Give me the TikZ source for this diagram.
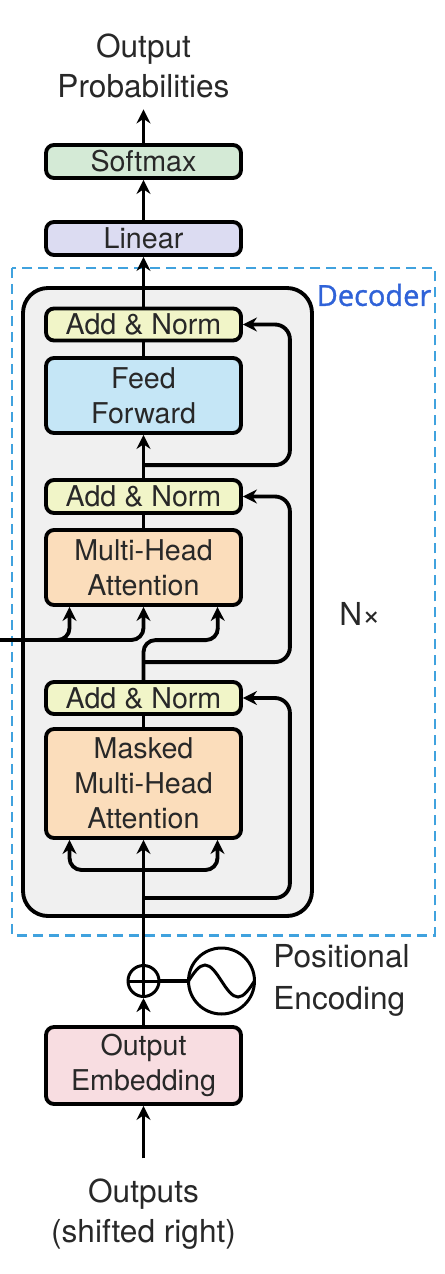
\documentclass[tikz,border=0pt]{standalone}
\usepackage{fontspec}
\setmainfont{TeX Gyre Heros}
\newfontfamily\decfont[FakeBold=1.2]{Open Sans}
\usetikzlibrary{arrows.meta}

\definecolor{textgray}{RGB}{40,40,40}
\definecolor{softmaxgreen}{RGB}{212,234,214}
\definecolor{linearblue}{RGB}{220,220,242}
\definecolor{normyellow}{RGB}{241,245,200}
\definecolor{ffblue}{RGB}{197,230,246}
\definecolor{attnorange}{RGB}{251,221,187}
\definecolor{embpink}{RGB}{248,221,225}
\definecolor{panelgray}{RGB}{240,240,240}
\definecolor{dashblue}{RGB}{64,162,222}
\definecolor{decblue}{RGB}{47,98,216}

\begin{document}
\begin{tikzpicture}[x=0.02cm, y=-0.02cm,
  txt/.style={text=textgray, font=\fontsize{18}{22.8}\selectfont, align=center, inner sep=0pt},
  layer/.style={draw, line width=2.2pt, rounded corners=0.16cm, minimum width=3.9cm,
    text=textgray, font=\fontsize{16.3}{20}\selectfont, align=center, inner sep=0pt},
  arr/.style={line width=2.2pt, -{Stealth[length=0.28cm, width=0.28cm]}},
  wire/.style={line width=2.2pt},
  ring/.style={draw, circle, line width=1.7pt, inner sep=0pt}]
\useasboundingbox (0,0) rectangle (444,1274);

% decoder frame and the stacked block
\draw[dashblue, line width=1.7pt, dash pattern=on 0.2cm off 0.12cm] (12,268) rectangle (435,935);
\draw[line width=2.2pt, fill=panelgray, rounded corners=0.5cm] (23,288) rectangle (312,916);
\node[decblue, font=\decfont\fontsize{16.5}{18}\selectfont] (dec) at (374,295) {Decoder};

% output side
\node[txt] (out) at (143.5,66) {Output\\Probabilities};
\node[layer, fill=softmaxgreen, minimum height=0.66cm] (softmax) at (143.5,161.5) {Softmax};
\node[layer, fill=linearblue, minimum height=0.66cm] (linear) at (143.5,238.5) {Linear};

% layers
\node[layer, fill=normyellow, minimum height=0.64cm] (an1) at (143.5,324.5) {Add \& Norm};
\node[layer, fill=ffblue, minimum height=1.5cm] (ff) at (143.5,395.5) {Feed\\Forward};
\node[layer, fill=normyellow, minimum height=0.66cm] (an2) at (143.5,496.5) {Add \& Norm};
\node[layer, fill=attnorange, minimum height=1.5cm] (mha) at (143.5,567.5) {Multi-Head\\Attention};
\node[layer, fill=normyellow, minimum height=0.64cm] (an3) at (143.5,698) {Add \& Norm};
\node[layer, fill=attnorange, minimum height=2.18cm] (mmha) at (143.5,783.5) {Masked\\Multi-Head\\Attention};
\node[txt] (nx) at (360,614) {N×};

% input side
\node[ring, minimum size=0.62cm] (plus) at (143.5,981) {};
\node[ring, minimum size=1.32cm] (sine) at (221.5,981) {};
\node[txt, anchor=west, align=left, font=\fontsize{18}{23.9}\selectfont] (pe) at (273,980) {Positional\\Encoding};
\node[layer, fill=embpink, minimum height=1.54cm] (emb) at (143.5,1065.5) {Output\\Embedding};
\node[txt] (outs) at (143.5,1214) {Outputs\\(shifted right)};

\coordinate (enc) at (0,640);
\coordinate (qsplit) at (143.5,870);
\coordinate (res3) at (143.5,898);

% plus and sine glyphs
\draw[line width=1.7pt] (plus.north) -- (plus.south) (plus.west) -- (plus.east);
\draw[line width=1.7pt] ([xshift=-0.66cm]sine.center) sin ++(16.5,-16) cos ++(16.5,16) sin ++(16.5,16) cos ++(16.5,-16);

% connectors
\draw[arr] ([yshift=0.4cm]outs.north) -- (emb.south);
\draw[arr] (emb.north) -- (plus.south);
\draw[wire] (plus.east) -- (sine.west);
\draw[arr] (plus.north) -- (mmha.south);
\draw[arr, rounded corners=0.24cm] (qsplit) -| ([xshift=-1.48cm]mmha.south);
\draw[arr, rounded corners=0.24cm] (qsplit) -| ([xshift=1.48cm]mmha.south);
\draw[arr, rounded corners=0.3cm] (res3) -| ([xshift=0.94cm]an3.east) -- (an3.east);
\draw[wire] (mmha.north) -- (an3.south);

\draw[arr, rounded corners=0.24cm] (enc) -| ([xshift=-1.48cm]mha.south);
\draw[arr, rounded corners=0.24cm] (enc) -| (mha.south);
\draw[arr, rounded corners=0.24cm] (an3.north) |- ++(74.5,-40) -- ([xshift=1.48cm]mha.south);
\draw[arr, rounded corners=0.3cm] ([yshift=0.36cm]an3.north) -| ([xshift=0.94cm]an2.east) -- (an2.east);
\draw[wire] (mha.north) -- (an2.south);

\draw[arr] (an2.north) -- (ff.south);
\draw[arr, rounded corners=0.3cm] ([yshift=0.26cm]an2.north) -| ([xshift=0.94cm]an1.east) -- (an1.east);
\draw[wire] (ff.north) -- (an1.south);

\draw[arr] (an1.north) -- (linear.south);
\draw[arr] (linear.north) -- (softmax.south);
\draw[arr] (softmax.north) -- ([yshift=-0.22cm]out.south);
\end{tikzpicture}
\end{document}
